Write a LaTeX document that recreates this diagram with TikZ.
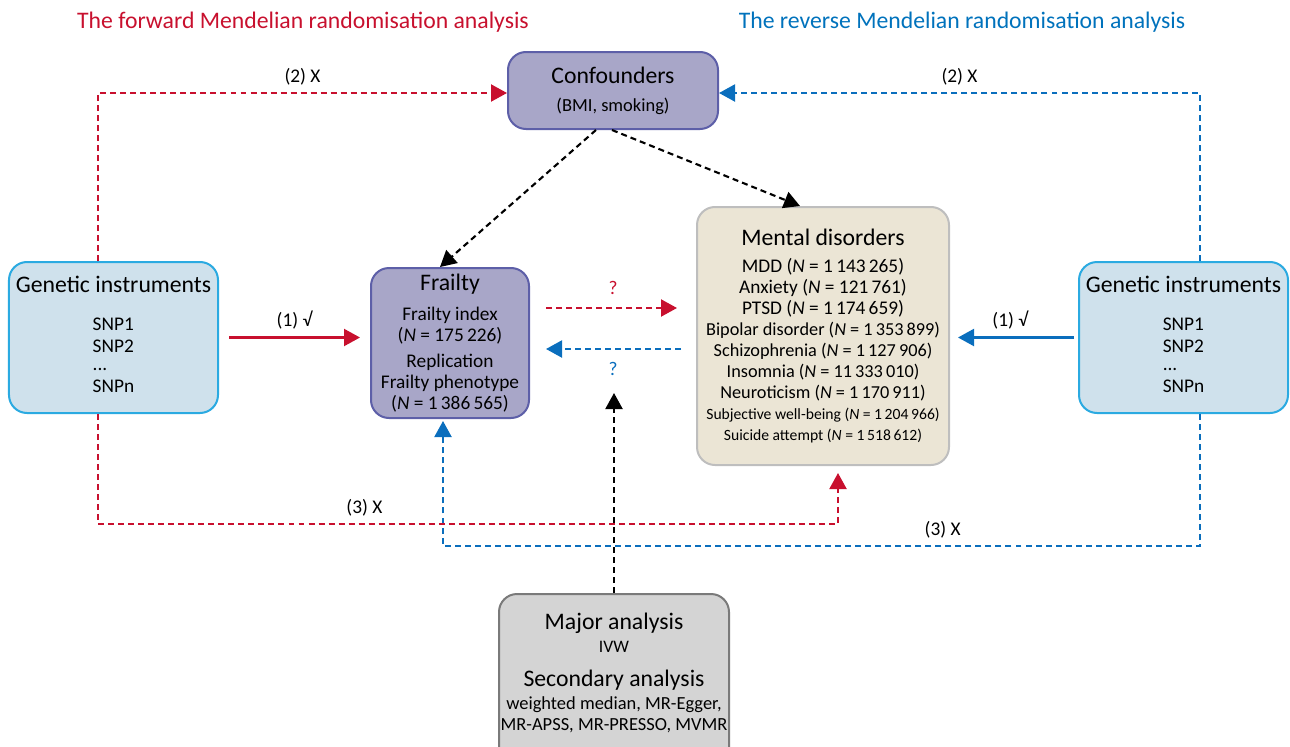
\documentclass[tikz,border=0pt]{standalone}
\usepackage{fontspec}
\setmainfont{Carlito}
\usetikzlibrary{arrows.meta,positioning}

\definecolor{fwdred}{RGB}{200,16,46}
\definecolor{revblue}{RGB}{10,110,189}
\definecolor{titleblue}{RGB}{0,114,188}
\definecolor{confill}{RGB}{168,166,200}
\definecolor{condraw}{RGB}{93,95,168}
\definecolor{mentfill}{RGB}{235,229,213}
\definecolor{mentdraw}{RGB}{190,190,190}
\definecolor{genfill}{RGB}{207,225,236}
\definecolor{gendraw}{RGB}{43,170,225}
\definecolor{anafill}{RGB}{212,212,212}
\definecolor{anadraw}{RGB}{122,122,122}

\newcommand{\headfont}{\fontsize{13.5}{15}\selectfont}
\newcommand{\bodyfont}{\fontsize{11}{12.5}\selectfont}
\newcommand{\midbody}{\fontsize{10.4}{12.5}\selectfont}
\newcommand{\smallbody}{\fontsize{8.9}{12}\selectfont}

\begin{document}
\begin{tikzpicture}[x=0.2mm, y=-0.2mm,
    box/.style={draw, rounded corners=3.6mm, line width=0.4mm, align=center, inner sep=1pt},
    conbox/.style={box, fill=confill, draw=condraw},
    mentbox/.style={box, fill=mentfill, draw=mentdraw},
    genbox/.style={box, fill=genfill, draw=gendraw},
    anabox/.style={box, fill=anafill, draw=anadraw},
    link/.style={line width=1.2pt, -{Triangle[length=3.2mm,width=3.4mm]}},
    fwd/.style={link, fwdred},
    rev/.style={link, revblue},
    dashedlink/.style={dash pattern=on 3.4pt off 2.3pt},
    lab/.style={font=\bodyfont, inner sep=1pt, text=black}]
  \useasboundingbox (0,0) rectangle (1290,747);

  % titles
  \node[font=\fontsize{13.5}{15}\selectfont, text=fwdred] (fwdtitle) at (303,22) {The forward Mendelian randomisation analysis};
  \node[font=\fontsize{13.5}{15}\selectfont, text=titleblue] (revtitle) at (962,22) {The reverse Mendelian randomisation analysis};

  % boxes
  \node[conbox, minimum width=42mm, minimum height=15.4mm] (conf) at (613,90.5)
    {{\headfont Confounders}\\[4pt]{\fontsize{10.5}{12}\selectfont (BMI, smoking)}};
  \node[conbox, minimum width=31.6mm, minimum height=30mm] (frail) at (450,343)
    {{\headfont Frailty}\\[5pt]
     \bodyfont Frailty index\\ \bodyfont (\textit{N} = 175\,226)\\[2.5pt]
     \bodyfont Replication\\ \bodyfont Frailty phenotype\\ \bodyfont (\textit{N} = 1\,386\,565)};
  \node[mentbox, minimum width=50.4mm, minimum height=51.6mm] (ment) at (823,336)
    {{\headfont Mental disorders}\\[3.5pt]
     \bodyfont MDD (\textit{N} = 1\,143\,265)\\
     \bodyfont Anxiety (\textit{N} = 121\,761)\\
     \bodyfont PTSD (\textit{N} = 1\,174\,659)\\
     \midbody Bipolar disorder (\textit{N} = 1\,353\,899)\\
     \midbody Schizophrenia (\textit{N} = 1\,127\,906)\\
     \midbody Insomnia (\textit{N} = 11\,333\,010)\\
     \midbody Neuroticism (\textit{N} = 1\,170\,911)\\
     \smallbody Subjective well-being (\textit{N} = 1\,204\,966)\\
     \smallbody Suicide attempt (\textit{N} = 1\,518\,612)};
  \node[genbox, minimum width=41.8mm, minimum height=30.2mm] (gil) at (113.5,337.5)
    {{\headfont Genetic instruments}\\[12pt]
     \bodyfont\begin{tabular}{@{}l@{}}SNP1\\SNP2\\[-2pt]...\\SNPn\end{tabular}};
  \node[genbox, minimum width=41.8mm, minimum height=30.2mm] (gir) at (1183.5,337.5)
    {{\headfont Genetic instruments}\\[12pt]
     \bodyfont\begin{tabular}{@{}l@{}}SNP1\\SNP2\\[-2pt]...\\SNPn\end{tabular}};
  \node[anabox, minimum width=46mm, minimum height=40mm, anchor=north] (ana) at (614,593) {};
  \node[align=center, inner sep=0pt] (anatext) at (614,673)
    {{\headfont Major analysis}\\[1pt]{\fontsize{10}{12}\selectfont IVW}\\[7pt]
     {\headfont Secondary analysis}\\[1pt]
     \fontsize{10.5}{12}\selectfont weighted median, MR-Egger,\\
     \fontsize{10.5}{12}\selectfont MR-APSS, MR-PRESSO, MVMR};
  \coordinate (mid) at (614,393);

  % (1) valid instruments
  \draw[fwd, shorten <=2mm, shorten >=2mm] (gil.east) -- (gil.east -| frail.west)
    node[lab, pos=0.5, above=3pt] {(1) √};
  \draw[rev, shorten <=0.8mm, shorten >=1.6mm] (gir.west) -- (gir.west -| ment.east)
    node[lab, pos=0.53, above=3pt] {(1) √};

  % (2) no link with confounders
  \draw[fwd, dashedlink] ([xshift=-3.1mm]gil.north) |- ([yshift=-0.5mm]conf.west)
    node[lab, pos=0.75, above=3pt] {(2) X};
  \draw[rev, dashedlink] ([xshift=3.3mm]gir.north) |- ([yshift=-0.5mm]conf.east)
    node[lab, pos=0.75, above=3pt] {(2) X};

  % (3) no direct path to outcome
  \draw[fwd, dashedlink, shorten >=1.4mm] ([xshift=-3.1mm]gil.south) -- ++(0,110) -| ([xshift=3mm]ment.south)
    node[lab, pos=0.18, above=3pt] {(3) X};
  \draw[rev, dashedlink, shorten >=0.4mm] ([xshift=3.3mm]gir.south) -- ++(0,132) -| ([xshift=-1.4mm]frail.south)
    node[lab, pos=0.17, above=3pt] {(3) X};

  % confounders
  \draw[link, dashedlink] ([xshift=-3.4mm]conf.south) -- ([xshift=-2mm]frail.north);
  \draw[link, dashedlink] ([xshift=-0.2mm]conf.south) -- ([xshift=-4.6mm]ment.north);

  % causal questions
  \draw[fwd, dashedlink, shorten <=3.2mm, shorten >=3.8mm] ([yshift=7mm]frail.east) -- ([yshift=7mm]frail.east -| ment.west)
    node[lab, pos=0.5, above=6pt, text=fwdred] {?};
  \draw[rev, dashedlink, shorten <=3mm, shorten >=3.2mm] ([yshift=-1.2mm]frail.east -| ment.west) -- ([yshift=-1.2mm]frail.east)
    node[lab, pos=0.5, below=6pt, text=revblue] {?};
  \draw[link, dashedlink] (ana.north) -- (mid);
\end{tikzpicture}
\end{document}
